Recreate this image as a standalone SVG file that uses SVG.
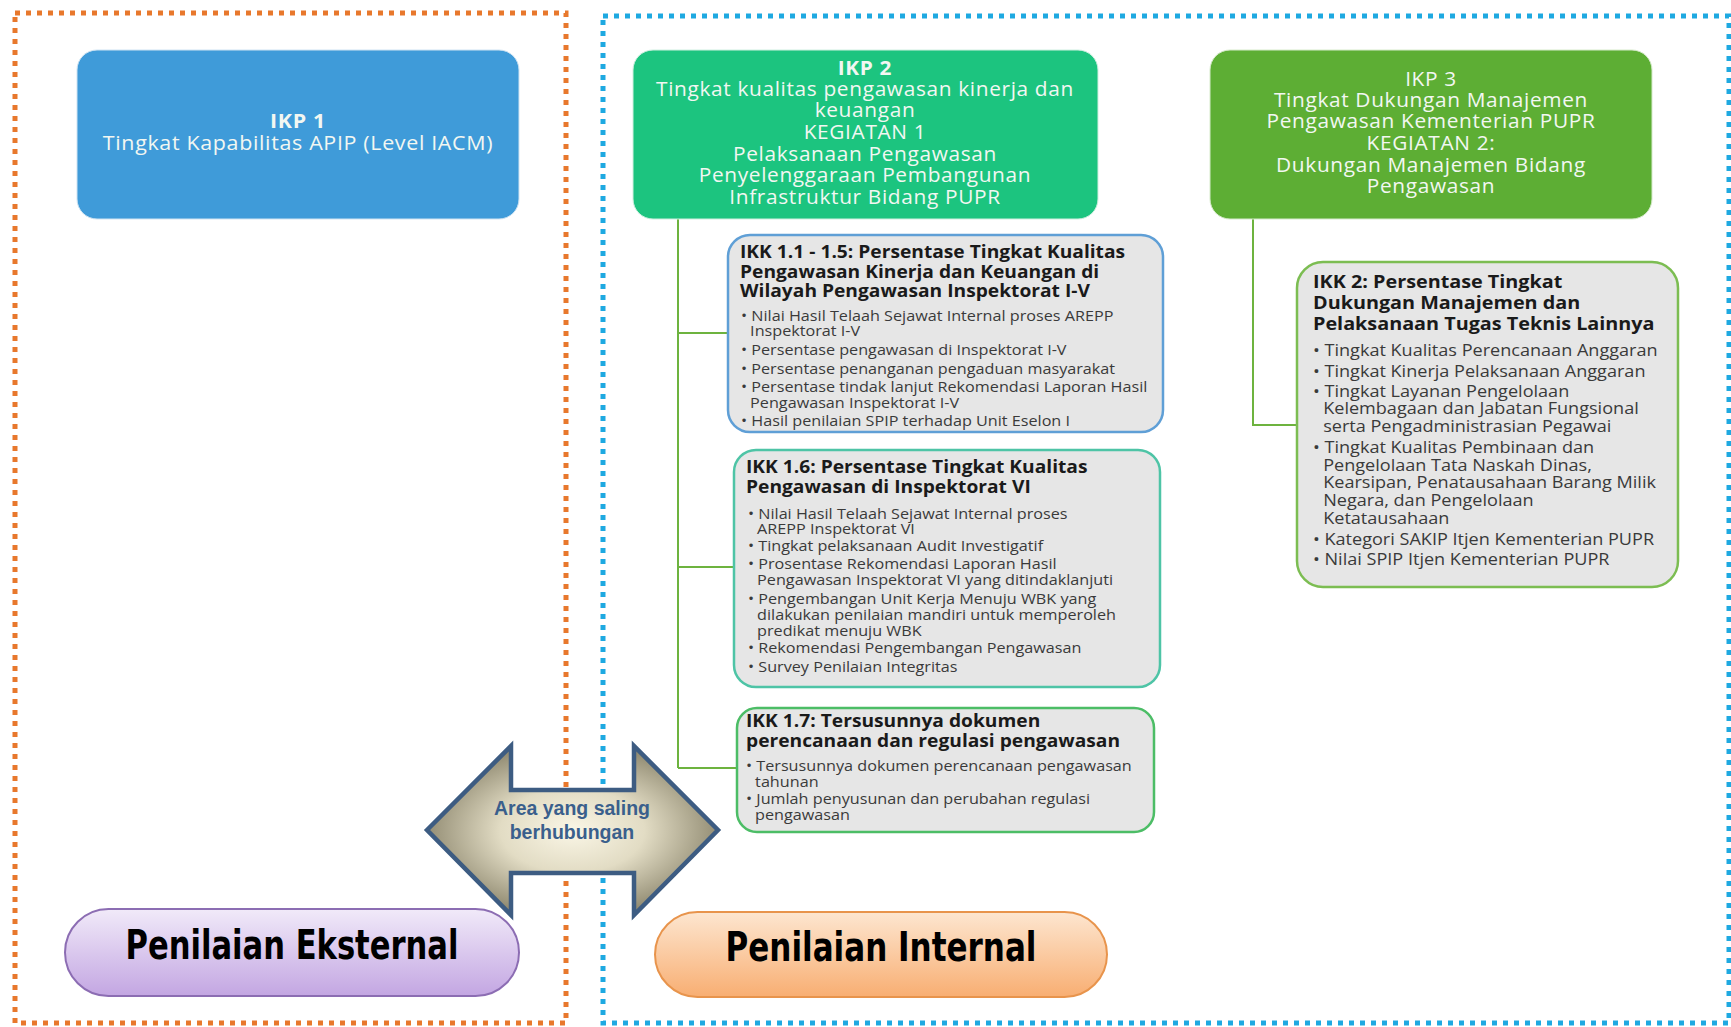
<svg xmlns="http://www.w3.org/2000/svg" width="1731" height="1027" viewBox="0 0 1731 1027">
<style>
.ikp{font-family:"Open Sans","Noto Sans",sans-serif;font-size:19.5px;fill:#F2F7F2;text-anchor:middle;letter-spacing:0.6px}
.ikpb{font-weight:bold}
.t{font-family:"Open Sans","Noto Sans",sans-serif;font-weight:bold;fill:#1A1A1A}
.b{font-family:"Open Sans","Noto Sans",sans-serif;fill:#3A3A3A}
.ikk{fill:#E6E6E6;stroke-width:2.5}
.con{fill:none;stroke:#6DB33F;stroke-width:2}
.pill{font-family:"Liberation Sans Narrow","DejaVu Sans Condensed",sans-serif;font-weight:bold;font-size:40px;fill:#000;text-anchor:middle}
.arr{font-family:"Liberation Sans",Arial,sans-serif;font-weight:bold;font-size:19.5px;fill:#3A5F8C;text-anchor:middle}
</style>
<defs>
<linearGradient id="gEks" x1="0" y1="0" x2="0" y2="1"><stop offset="0" stop-color="#F1EAF9"/><stop offset="1" stop-color="#C3A6E2"/></linearGradient>
<linearGradient id="gInt" x1="0" y1="0" x2="0" y2="1"><stop offset="0" stop-color="#FDE6D0"/><stop offset="1" stop-color="#F8AE72"/></linearGradient>
<radialGradient id="gArr" cx="0.5" cy="0.5" r="0.55"><stop offset="0" stop-color="#FAF6E6"/><stop offset="0.45" stop-color="#E2DCC4"/><stop offset="1" stop-color="#857F66"/></radialGradient>
</defs>

<!-- dotted area borders -->
<rect x="15" y="13" width="551" height="1010" fill="none" stroke="#E8782C" stroke-width="5" stroke-dasharray="5 6"/>
<rect x="603" y="16" width="1126" height="1007" fill="none" stroke="#1EA9E1" stroke-width="5" stroke-dasharray="5 6"/>

<!-- connectors -->
<g id="connectors">
<path class="con" d="M678 219 V768 M678 333 H728 M678 567 H734 M678 768 H737"/>
<path class="con" d="M1253 219 V425 H1297"/>
</g>

<g id="ikp1">
<rect x="77" y="50" width="442" height="169" rx="20" fill="#3F9BD9" stroke="#CFE3F2" stroke-width="1"/>
<text class="ikp" letter-spacing="0" transform="translate(298 0) scale(1.1 1) translate(-298 0)"><tspan class="ikpb" x="298" y="128">IKP 1</tspan><tspan x="298" y="150">Tingkat Kapabilitas APIP (Level IACM)</tspan></text>
</g>

<g id="ikp2">
<rect x="633" y="50" width="465" height="169" rx="20" fill="#1CC47F" stroke="#CFEFE0" stroke-width="1"/>
<text class="ikp" transform="translate(865 0) scale(1.07 1) translate(-865 0)"><tspan class="ikpb" x="865" y="75">IKP 2</tspan><tspan x="865" y="96">Tingkat kualitas pengawasan kinerja dan</tspan><tspan x="865" y="117">keuangan</tspan><tspan x="865" y="139">KEGIATAN 1</tspan><tspan x="865" y="161">Pelaksanaan Pengawasan</tspan><tspan x="865" y="182">Penyelenggaraan Pembangunan</tspan><tspan x="865" y="204">Infrastruktur Bidang PUPR</tspan></text>
</g>

<g id="ikp3">
<rect x="1210" y="50" width="442" height="169" rx="20" fill="#5DAE34" stroke="#D6EACB" stroke-width="1"/>
<text class="ikp" transform="translate(1431 0) scale(1.07 1) translate(-1431 0)"><tspan x="1431" y="86">IKP 3</tspan><tspan x="1431" y="107">Tingkat Dukungan Manajemen</tspan><tspan x="1431" y="128">Pengawasan Kementerian PUPR</tspan><tspan x="1431" y="150">KEGIATAN 2:</tspan><tspan x="1431" y="172">Dukungan Manajemen Bidang</tspan><tspan x="1431" y="193">Pengawasan</tspan></text>
</g>

<g id="ikk11">
<rect class="ikk" x="728" y="235" width="435" height="197" rx="22" stroke="#5F9FD6"/>
<text class="t" font-size="17" transform="translate(740 0) scale(1.13 1) translate(-740 0)"><tspan x="740" y="258">IKK 1.1 - 1.5: Persentase Tingkat Kualitas</tspan><tspan x="740" y="278">Pengawasan Kinerja dan Keuangan di</tspan><tspan x="740" y="297">Wilayah Pengawasan Inspektorat I-V</tspan></text>
<text class="b" font-size="14.2" transform="translate(741 0) scale(1.14 1) translate(-741 0)"><tspan x="741" y="321">• Nilai Hasil Telaah Sejawat Internal proses AREPP</tspan><tspan x="749" y="336">Inspektorat I-V</tspan><tspan x="741" y="355">• Persentase pengawasan di Inspektorat I-V</tspan><tspan x="741" y="374">• Persentase penanganan pengaduan masyarakat</tspan><tspan x="741" y="392">• Persentase tindak lanjut Rekomendasi Laporan Hasil</tspan><tspan x="749" y="408">Pengawasan Inspektorat I-V</tspan><tspan x="741" y="426">• Hasil penilaian SPIP terhadap Unit Eselon I</tspan></text>
</g>

<g id="ikk16">
<rect class="ikk" x="734" y="450" width="426" height="237" rx="22" stroke="#4EC4A6"/>
<text class="t" font-size="17" transform="translate(746 0) scale(1.13 1) translate(-746 0)"><tspan x="746" y="473">IKK 1.6: Persentase Tingkat Kualitas</tspan><tspan x="746" y="493">Pengawasan di Inspektorat VI</tspan></text>
<text class="b" font-size="14.2" transform="translate(748 0) scale(1.14 1) translate(-748 0)"><tspan x="748" y="519">• Nilai Hasil Telaah Sejawat Internal proses</tspan><tspan x="756" y="534">AREPP  Inspektorat VI</tspan><tspan x="748" y="551">• Tingkat pelaksanaan Audit Investigatif</tspan><tspan x="748" y="569">• Prosentase Rekomendasi Laporan Hasil</tspan><tspan x="756" y="585">Pengawasan Inspektorat VI yang ditindaklanjuti</tspan><tspan x="748" y="604">• Pengembangan Unit Kerja Menuju WBK yang</tspan><tspan x="756" y="620">dilakukan penilaian mandiri untuk memperoleh</tspan><tspan x="756" y="636">predikat menuju WBK</tspan><tspan x="748" y="653">• Rekomendasi Pengembangan Pengawasan</tspan><tspan x="748" y="672">• Survey Penilaian Integritas</tspan></text>
</g>

<g id="ikk17">
<rect class="ikk" x="737" y="708" width="417" height="124" rx="20" stroke="#4CBD66"/>
<text class="t" font-size="17" transform="translate(746 0) scale(1.13 1) translate(-746 0)"><tspan x="746" y="727">IKK 1.7: Tersusunnya dokumen</tspan><tspan x="746" y="747">perencanaan dan regulasi pengawasan</tspan></text>
<text class="b" font-size="14.2" transform="translate(746 0) scale(1.14 1) translate(-746 0)"><tspan x="746" y="771">• Tersusunnya dokumen perencanaan pengawasan</tspan><tspan x="754" y="787">tahunan</tspan><tspan x="746" y="804">• Jumlah penyusunan dan perubahan regulasi</tspan><tspan x="754" y="820">pengawasan</tspan></text>
</g>

<g id="ikk2">
<rect class="ikk" x="1297" y="262" width="381" height="325" rx="26" stroke="#7CBD52"/>
<text class="t" font-size="18" transform="translate(1313 0) scale(1.1 1) translate(-1313 0)"><tspan x="1313" y="288">IKK 2: Persentase Tingkat</tspan><tspan x="1313" y="309">Dukungan Manajemen dan</tspan><tspan x="1313" y="330">Pelaksanaan Tugas Teknis Lainnya</tspan></text>
<text class="b" font-size="16" transform="translate(1313 0) scale(1.13 1) translate(-1313 0)"><tspan x="1313" y="356">• Tingkat Kualitas Perencanaan Anggaran</tspan><tspan x="1313" y="377">• Tingkat Kinerja Pelaksanaan Anggaran</tspan><tspan x="1313" y="397">• Tingkat Layanan Pengelolaan</tspan><tspan x="1322" y="414">Kelembagaan dan Jabatan Fungsional</tspan><tspan x="1322" y="432">serta Pengadministrasian Pegawai</tspan><tspan x="1313" y="453">• Tingkat Kualitas Pembinaan dan</tspan><tspan x="1322" y="471">Pengelolaan Tata Naskah Dinas,</tspan><tspan x="1322" y="488">Kearsipan, Penatausahaan Barang Milik</tspan><tspan x="1322" y="506">Negara, dan Pengelolaan</tspan><tspan x="1322" y="524">Ketatausahaan</tspan><tspan x="1313" y="545">• Kategori SAKIP Itjen Kementerian PUPR</tspan><tspan x="1313" y="565">• Nilai SPIP Itjen Kementerian PUPR</tspan></text>
</g>

<g id="arrow">
<path d="M427 830 L511 746 L511 790 L634 790 L634 746 L718 830 L634 915 L634 873 L511 873 L511 915 Z" fill="url(#gArr)" stroke="#3D5C82" stroke-width="4.5" stroke-linejoin="miter"/>
<text class="arr"><tspan x="572" y="815">Area yang saling</tspan><tspan x="572" y="839">berhubungan</tspan></text>
</g>

<g id="eksternal">
<rect x="65" y="909" width="454" height="87" rx="43.5" fill="url(#gEks)" stroke="#8C6DB3" stroke-width="2"/>
<text class="pill" x="292" y="959" textLength="333" lengthAdjust="spacingAndGlyphs">Penilaian Eksternal</text>
</g>

<g id="internal">
<rect x="655" y="912" width="452" height="85" rx="42.5" fill="url(#gInt)" stroke="#E8944C" stroke-width="2"/>
<text class="pill" x="881" y="961" textLength="311" lengthAdjust="spacingAndGlyphs">Penilaian Internal</text>
</g>
</svg>
